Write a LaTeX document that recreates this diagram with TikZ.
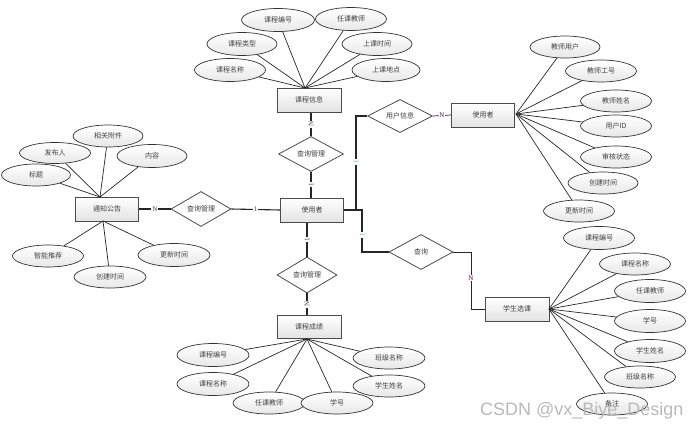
\documentclass[tikz,border=0pt]{standalone}
\usepackage{fontspec}
\setmainfont{Noto Sans CJK SC}
\newfontfamily\lblfont{Liberation Serif}
\newfontfamily\wmfont{Liberation Sans}
\usetikzlibrary{shapes.geometric}
\definecolor{txt}{HTML}{404040}
\begin{document}
\begin{tikzpicture}[x=1pt,y=-1pt,
  every node/.style={font=\fontsize{7}{8}\selectfont, text=txt},
  ent/.style={rectangle, draw=gray!60!black, line width=1pt, top color=white, bottom color=gray!22, minimum width=63pt, minimum height=24pt, inner sep=0pt},
  attr/.style={ellipse, draw=black!80, line width=0.7pt, top color=white, bottom color=gray!18, minimum width=71pt, minimum height=23pt, inner sep=0pt},
  rel/.style={diamond, aspect=1.8, draw=gray!60!black, line width=0.8pt, fill=white, minimum width=62pt, minimum height=35pt, inner sep=0pt},
  ln/.style={draw=black!85, line width=0.7pt},
  conn/.style={draw=black!85, line width=1.1pt},
  lbl/.style={font=\lblfont\fontsize{7}{8}\selectfont, fill=white, inner sep=0.8pt},
  lblc/.style={lbl, text=cyan!60!gray},
  lblr/.style={lbl, text=violet!70!black}
]
\useasboundingbox (0,0) rectangle (700,431);

% ---------- top: 课程信息 ----------
\node[ent, minimum width=64pt] (kc) at (309,100) {课程信息};
\coordinate (kcT) at (305,88);
\node[attr, minimum width=73pt] (kc1) at (278,20) {课程编号};
\node[attr] (kc2) at (351,19) {任课教师};
\node[attr, minimum width=70pt] (kc3) at (242,44) {课程类型};
\node[attr, minimum width=70pt] (kc4) at (377,44) {上课时间};
\node[attr] (kc5) at (230,70) {课程名称};
\node[attr, minimum width=68pt] (kc6) at (386,70) {上课地点};
\foreach \e in {kc1,kc2,kc3,kc4,kc5,kc6} \draw[ln] (kcT) -- (\e);

\node[rel, minimum width=65pt] (dq2) at (311,154) {查询管理};
\draw[conn] (dq2.north |- kc.south) -- (dq2.north) node[midway, lbl, rotate=90] {N};

% ---------- center: 使用者 ----------
\node[ent] (u) at (312,210) {使用者};
\draw[conn] (dq2.south) -- (dq2.south |- u.north) node[midway, lbl, rotate=90] {1};

% ---------- 用户信息 / 使用者 (right) ----------
\node[rel, minimum width=65pt, minimum height=33pt] (dinfo) at (400,116) {用户信息};
\node[ent] (ur) at (483,115) {使用者};
\draw[conn] (u.east) -- ++(12,0) |- (dinfo.west);
\node[lblc, rotate=90] at (356,162) {1};
\draw[ln] (dinfo.east) -- (ur.west) node[midway, lblr] {N};

\coordinate (urR) at (516,114);
\node[attr, minimum width=70pt, minimum height=22pt] (ur1) at (565,47) {教师用户};
\node[attr, minimum height=22pt] (ur2) at (601,71) {教师工号};
\node[attr, minimum height=22pt] (ur3) at (616,101) {教师姓名};
\node[attr, minimum height=22pt] (ur4) at (616,126) {用户ID};
\node[attr, minimum height=22pt] (ur5) at (616,157) {审核状态};
\node[attr, minimum width=70pt, minimum height=22pt] (ur6) at (603,183) {创建时间};
\node[attr, minimum height=22pt] (ur7) at (579,211) {更新时间};
\foreach \e in {ur1,ur2,ur3,ur4,ur5,ur6,ur7} \draw[ln] (urR) -- (\e);

% ---------- 查询 / 学生选课 ----------
\node[rel, minimum width=64pt] (dq4) at (421,252) {查询};
\draw[conn] (u.east) -- ++(18,0) |- (dq4.west);
\node[lblc, rotate=90] at (362,235) {1};
\node[ent, minimum width=64pt] (sx) at (517,309) {学生选课};
\draw[ln] (dq4.east) -- ++(18,0) |- (sx.west);
\node[lblr] at (471,278) {N};

\coordinate (sxR) at (549,309);
\node[attr] (sx1) at (599,238) {课程编号};
\node[attr, minimum height=22pt] (sx2) at (635,264) {课程名称};
\node[attr] (sx3) at (650,291) {任课教师};
\node[attr] (sx4) at (650,321) {学号};
\node[attr] (sx5) at (650,351) {学生姓名};
\node[attr, minimum height=22pt] (sx6) at (640,377) {班级名称};
\node[attr, minimum height=22pt] (sx7) at (612,404) {备注};
\foreach \e in {sx1,sx2,sx3,sx4,sx5,sx6,sx7} \draw[ln] (sxR) -- (\e);

% ---------- left: 通知公告 ----------
\node[ent] (tz) at (107,209) {通知公告};
\node[rel, minimum width=60pt] (dq1) at (201,209) {查询管理};
\draw[conn] (tz.east) -- (dq1.west) node[midway, lbl] {N};
\draw[conn] (dq1.east) -- (u.west) node[midway, lbl] {1};

\coordinate (tzT) at (100,197);
\coordinate (tzB) at (103,221);
\node[attr, minimum width=70pt, minimum height=22pt] (tz1) at (108,136) {相关附件};
\node[attr, minimum height=21pt] (tz2) at (55,153) {发布人};
\node[attr, minimum width=70pt] (tz3) at (152,156) {内容};
\node[attr, minimum width=69pt, minimum height=22pt] (tz4) at (36,175) {标题};
\foreach \e in {tz1,tz2,tz3,tz4} \draw[ln] (tzT) -- (\e);
\node[attr, minimum height=22pt] (tz5) at (48,256) {智能推荐};
\node[attr, minimum width=72pt, minimum height=22pt] (tz6) at (110,277) {创建时间};
\node[attr, minimum width=72pt, minimum height=23pt] (tz7) at (174,255) {更新时间};
\foreach \e in {tz5,tz6,tz7} \draw[ln] (tzB) -- (\e);

% ---------- bottom: 课程成绩 ----------
\node[rel, minimum width=60pt, minimum height=36pt] (dq3) at (307,275) {查询管理};
\draw[conn] (dq3.north |- u.south) -- (dq3.north) node[midway, lbl, rotate=90] {1};
\node[ent, minimum width=64pt, minimum height=23pt] (cj) at (309,327) {课程成绩};
\draw[conn] (dq3.south) -- (dq3.south |- cj.north) node[midway, lbl, rotate=90] {N};

\coordinate (cjB) at (307,339);
\node[attr, minimum width=72pt] (cj1) at (213,355) {课程编号};
\node[attr, minimum width=72pt] (cj2) at (213,384) {课程名称};
\node[attr, minimum width=72pt, minimum height=22pt] (cj3) at (269,403) {任课教师};
\node[attr, minimum width=72pt, minimum height=22pt] (cj4) at (337,403) {学号};
\node[attr, minimum width=72pt, minimum height=22pt] (cj5) at (389,358) {班级名称};
\node[attr, minimum width=72pt, minimum height=22pt] (cj6) at (389,386) {学生姓名};
\foreach \e in {cj1,cj2,cj3,cj4,cj5,cj6} \draw[ln] (cjB) -- (\e);

% ---------- watermark ----------
\node[font=\wmfont\fontsize{18}{20}\selectfont, text=gray!55, anchor=west, inner sep=0pt] (wm) at (480,411) {CSDN @vx\_Biye\_Design};
\end{tikzpicture}
\end{document}
